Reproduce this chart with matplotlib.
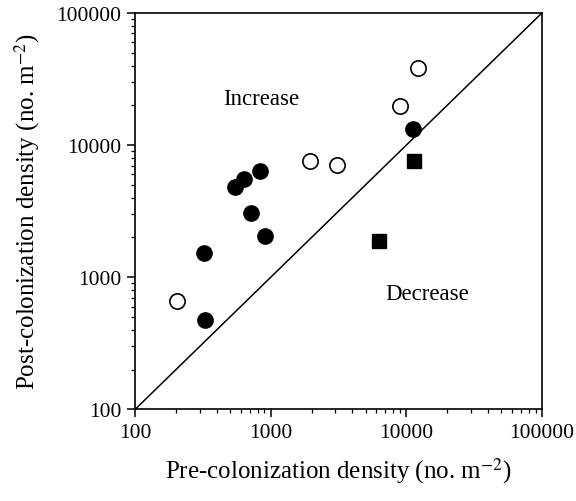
import numpy as np
import matplotlib
matplotlib.use("Agg")
import matplotlib.pyplot as plt

plt.rcParams['font.family'] = ['Liberation Serif', 'DejaVu Serif']
plt.rcParams['mathtext.fontset'] = 'stix'

# filled circles
filled_x = [11250, 834, 639, 548, 716, 913, 324, 326]
filled_y = [13240, 6340, 5540, 4845, 3065, 2064, 1527, 475]
# open circles
open_x = [12250, 8980, 1950, 3070, 203]
open_y = [38100, 19860, 7620, 7070, 665]
# squares
sq_x = [11390, 6320]
sq_y = [7580, 1872]

lims = [100, 100000]
ticks = [100, 1000, 10000, 100000]
tick_labels = ['100', '1000', '10000', '100000']

fig = plt.figure(figsize=(5.76, 5.02), dpi=100)
ax = fig.add_axes([0.2344, 0.1823, 0.7066, 0.790])

ax.plot(lims, lims, color='black', lw=1.1, zorder=1)
ax.plot(filled_x, filled_y, 'o', ms=11, color='black', zorder=3)
ax.plot(open_x, open_y, 'o', ms=11, mfc='white', mec='black', mew=1.2, zorder=3)
ax.plot(sq_x, sq_y, 's', ms=10, color='black', zorder=3)

ax.set_xscale('log')
ax.set_yscale('log')
ax.set_xlim(lims)
ax.set_ylim(lims)
ax.set_xticks(ticks)
ax.set_xticklabels(tick_labels)
ax.set_yticks(ticks)
ax.set_yticklabels(tick_labels)

ax.tick_params(which='major', direction='out', length=6, width=1.1, labelsize=15.5, pad=4)
ax.tick_params(which='minor', direction='out', length=3, width=0.9)
for s in ax.spines.values():
    s.set_linewidth(1.2)

ax.text(849, 22700, 'Increase', fontsize=16.5, ha='center', va='center')
ax.text(14200, 760, 'Decrease', fontsize=16.5, ha='center', va='center')

ax.set_xlabel('Pre-colonization density (no. m$^{-2}$)', fontsize=18, labelpad=9)
ax.set_ylabel('Post-colonization density (no. m$^{-2}$)', fontsize=18, labelpad=10)

fig.savefig('out.png', dpi=100)
